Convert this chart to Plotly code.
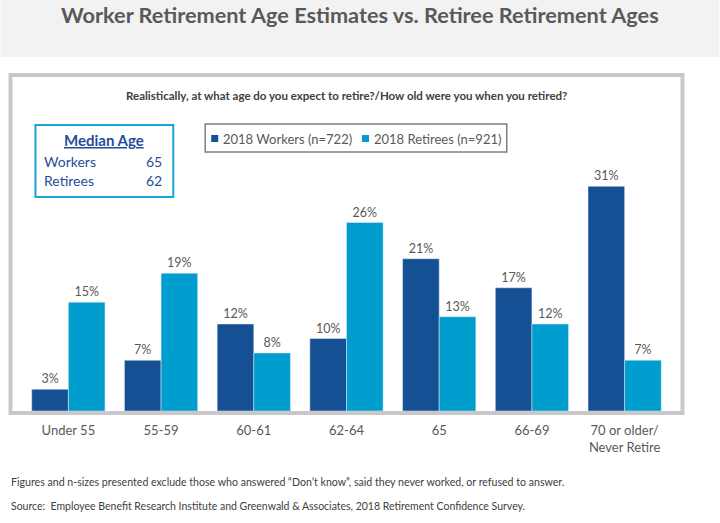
import plotly.graph_objects as go

categories = ["Under 55", "55-59", "60-61", "62-64", "65", "66-69", "70 or older/<br>Never Retire"]
workers = [3, 7, 12, 10, 21, 17, 31]
retirees = [15, 19, 8, 26, 13, 12, 7]
series_names = ["2018 Workers (n=722)", "2018 Retirees (n=921)"]
median_rows = [("Workers", 65), ("Retirees", 62)]

W, H = 720, 523
L, R, T, B = 21.5, 671.5, 121, 411  # plot area in px
DARK = "#154f94"
LIGHT = "#009dcf"
GRAY = "#595959"
FONT = "Lato"

def px(x):
    return (x - L) / (R - L)

def py(y):
    return (B - y) / (B - T)

fig = go.Figure()
fig.add_bar(x=categories, y=workers, name=series_names[0], marker_color=DARK,
            text=[f"{v}%" for v in workers], textposition="outside",
            textfont=dict(color=GRAY, size=12.5, family=FONT), cliponaxis=False)
fig.add_bar(x=categories, y=retirees, name=series_names[1], marker_color=LIGHT,
            text=[f"{v}%" for v in retirees], textposition="outside",
            textfont=dict(color=GRAY, size=12.5, family=FONT), cliponaxis=False)

shapes = [
    # header band
    dict(type="rect", xref="paper", yref="paper", x0=px(0), x1=px(W), y0=py(57), y1=py(0),
         fillcolor="#f2f2f2", line=dict(width=0), layer="below"),
    # outer frame
    dict(type="rect", xref="paper", yref="paper", x0=px(10), x1=px(683), y0=py(413), y1=py(75),
         fillcolor="rgba(0,0,0,0)", line=dict(color="#c9c7c9", width=4), layer="above"),
    # median box
    dict(type="rect", xref="paper", yref="paper", x0=px(35), x1=px(173), y0=py(197), y1=py(125),
         fillcolor="white", line=dict(color="#1aa3d6", width=2)),
    # legend box
    dict(type="rect", xref="paper", yref="paper", x0=px(205), x1=px(507), y0=py(152), y1=py(124),
         fillcolor="white", line=dict(color="#7f7f7f", width=1.5)),
    # legend swatches
    dict(type="rect", xref="paper", yref="paper", x0=px(211), x1=px(218), y0=py(142), y1=py(135),
         fillcolor=DARK, line=dict(width=0)),
    dict(type="rect", xref="paper", yref="paper", x0=px(362), x1=px(369), y0=py(142), y1=py(135),
         fillcolor=LIGHT, line=dict(width=0)),
]

ann = []
def txt(x, y, s, size, color=GRAY, xanchor="left", bold=False):
    if bold:
        s = f"<b>{s}</b>"
    ann.append(dict(x=px(x), y=py(y), xref="paper", yref="paper", text=s, showarrow=False,
                    xanchor=xanchor, yanchor="middle", font=dict(size=size, color=color, family=FONT)))

txt(360, 15, "Worker Retirement Age Estimates vs. Retiree Retirement Ages", 21.7, "#595959", "center", True)
txt(346, 95, "Realistically, at what age do you expect to retire?/How old were you when you retired?", 11.5, "#404040", "center", True)
txt(104, 140, "<u>Median Age</u>", 15, "#1f4e99", "center", True)
for i, (lab, val) in enumerate(median_rows):
    txt(42, 161 + 19 * i, lab, 14, "#1f4e99", "left")
    txt(164, 161 + 19 * i, str(val), 14, "#1f4e99", "right")
txt(221, 138.5, series_names[0], 13, GRAY, "left")
txt(372, 138.5, series_names[1], 13, GRAY, "left")
txt(8, 482, "Figures and n-sizes presented exclude those who answered “Don’t know”, said they never worked, or refused to answer.", 10.6, "#404040", "left")
txt(8, 506, "Source:  Employee Benefit Research Institute and Greenwald & Associates, 2018 Retirement Confidence Survey.", 10.5, "#404040", "left")

fig.update_layout(
    width=W, height=H,
    margin=dict(l=L, r=W - R, t=T, b=H - B, autoexpand=False),
    paper_bgcolor="white", plot_bgcolor="white",
    barmode="group", bargap=0.21, bargroupgap=0,
    showlegend=False,
    shapes=shapes, annotations=ann,
    xaxis=dict(showline=False, ticks="", ticklabelstandoff=10,
               tickfont=dict(size=13, color=GRAY, family=FONT), fixedrange=True),
    yaxis=dict(range=[0, 40], visible=False, showgrid=False, fixedrange=True),
)
fig.write_html("out.html")
